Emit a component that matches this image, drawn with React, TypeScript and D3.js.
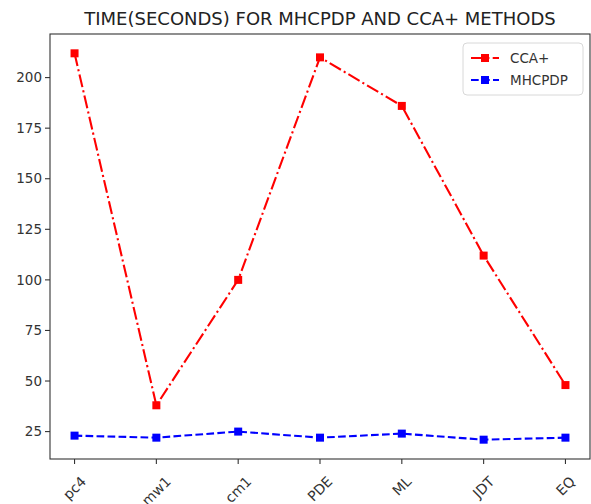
import React, { useEffect, useRef } from "react";
import * as d3 from "d3";

const categories = ["pc4", "mw1", "cm1", "PDE", "ML", "JDT", "EQ"];
const ccaValues = [212, 38, 100, 210, 186, 112, 48];
const mhcpdpValues = [23, 22, 25, 22, 24, 21, 22];
const yTicks = [25, 50, 75, 100, 125, 150, 175, 200];

const W = 591;
const H = 504;
const margin = { top: 34, right: 1, bottom: 45, left: 50 };
const FONT = "DejaVu Sans, sans-serif";

const App = () => {
  const svgRef = useRef(null);

  useEffect(() => {
    const svg = d3.select(svgRef.current);
    svg.selectAll("*").remove();

    const x0 = margin.left;
    const x1 = W - margin.right;
    const y0 = margin.top;
    const y1 = H - margin.bottom;

    const all = ccaValues.concat(mhcpdpValues);
    const lo = d3.min(all);
    const hi = d3.max(all);
    const pad = (hi - lo) * 0.05;

    const xScale = d3
      .scaleLinear()
      .domain([-0.3, categories.length - 1 + 0.3])
      .range([x0, x1]);
    const yScale = d3
      .scaleLinear()
      .domain([lo - pad, hi + pad])
      .range([y1, y0]);

    // title
    svg
      .append("text")
      .attr("x", (x0 + x1) / 2)
      .attr("y", 25)
      .attr("text-anchor", "middle")
      .attr("font-family", FONT)
      .attr("font-size", 18)
      .attr("fill", "#222")
      .text("TIME(SECONDS) FOR MHCPDP AND CCA+ METHODS");

    // y ticks
    const yg = svg.append("g");
    yTicks.forEach((t) => {
      const y = yScale(t);
      yg.append("line")
        .attr("x1", x0 - 5)
        .attr("x2", x0)
        .attr("y1", y)
        .attr("y2", y)
        .attr("stroke", "#333")
        .attr("stroke-width", 1.1);
      yg.append("text")
        .attr("x", x0 - 8)
        .attr("y", y)
        .attr("dy", "0.35em")
        .attr("text-anchor", "end")
        .attr("font-family", FONT)
        .attr("font-size", 13.5)
        .attr("fill", "#333")
        .text(t);
    });

    // x ticks + rotated labels
    const xg = svg.append("g");
    categories.forEach((c, i) => {
      const x = xScale(i);
      xg.append("line")
        .attr("x1", x)
        .attr("x2", x)
        .attr("y1", y1)
        .attr("y2", y1 + 5)
        .attr("stroke", "#333")
        .attr("stroke-width", 1.1);
      const t = xg
        .append("text")
        .attr("text-anchor", "middle")
        .attr("dy", "0.35em")
        .attr("font-family", FONT)
        .attr("font-size", 14)
        .attr("fill", "#333")
        .text(c);
      const w = (t.node() as SVGTextElement).getComputedTextLength();
      const h = 14;
      const bh = (w + h) / Math.SQRT2;
      const cy = y1 + 5 + 10 + bh / 2;
      t.attr("x", x).attr("y", cy).attr("transform", `rotate(-45, ${x}, ${cy})`);
    });

    // frame
    svg
      .append("rect")
      .attr("x", x0)
      .attr("y", y0)
      .attr("width", x1 - x0)
      .attr("height", y1 - y0)
      .attr("fill", "none")
      .attr("stroke", "#333")
      .attr("stroke-width", 1.1);

    const series = [
      { name: "CCA+", values: ccaValues, color: "#ff0000", dash: "13,3.3,2.1,3.3" },
      { name: "MHCPDP", values: mhcpdpValues, color: "#0000ff", dash: "7.7,3.3" },
    ];

    const line = d3
      .line<number>()
      .x((_, i) => xScale(i))
      .y((d) => yScale(d));

    series.forEach((s) => {
      svg
        .append("path")
        .attr("d", line(s.values))
        .attr("fill", "none")
        .attr("stroke", s.color)
        .attr("stroke-width", 2.1)
        .attr("stroke-dasharray", s.dash);
      svg
        .append("g")
        .selectAll("rect")
        .data(s.values)
        .join("rect")
        .attr("x", (_, i) => xScale(i) - 4)
        .attr("y", (d) => yScale(d) - 4)
        .attr("width", 8)
        .attr("height", 8)
        .attr("fill", s.color);
    });

    // legend
    const lg = svg.append("g").attr("transform", "translate(463,43)");
    lg.append("rect")
      .attr("width", 120)
      .attr("height", 52)
      .attr("rx", 4)
      .attr("fill", "white")
      .attr("fill-opacity", 0.8)
      .attr("stroke", "#d8d8d8");
    series.forEach((s, i) => {
      const ly = 15 + i * 22;
      lg.append("line")
        .attr("x1", 8)
        .attr("x2", 36)
        .attr("y1", ly)
        .attr("y2", ly)
        .attr("stroke", s.color)
        .attr("stroke-width", 2.1)
        .attr("stroke-dasharray", s.dash);
      lg.append("rect")
        .attr("x", 18)
        .attr("y", ly - 4)
        .attr("width", 8)
        .attr("height", 8)
        .attr("fill", s.color);
      lg.append("text")
        .attr("x", 47)
        .attr("y", ly)
        .attr("dy", "0.35em")
        .attr("font-family", FONT)
        .attr("font-size", 13.5)
        .attr("fill", "#333")
        .text(s.name);
    });
  }, []);

  return (
    <svg
      ref={svgRef}
      width={W}
      height={H}
      style={{ position: "absolute", left: 0, top: 0, background: "white" }}
    ></svg>
  );
};

export default App;
